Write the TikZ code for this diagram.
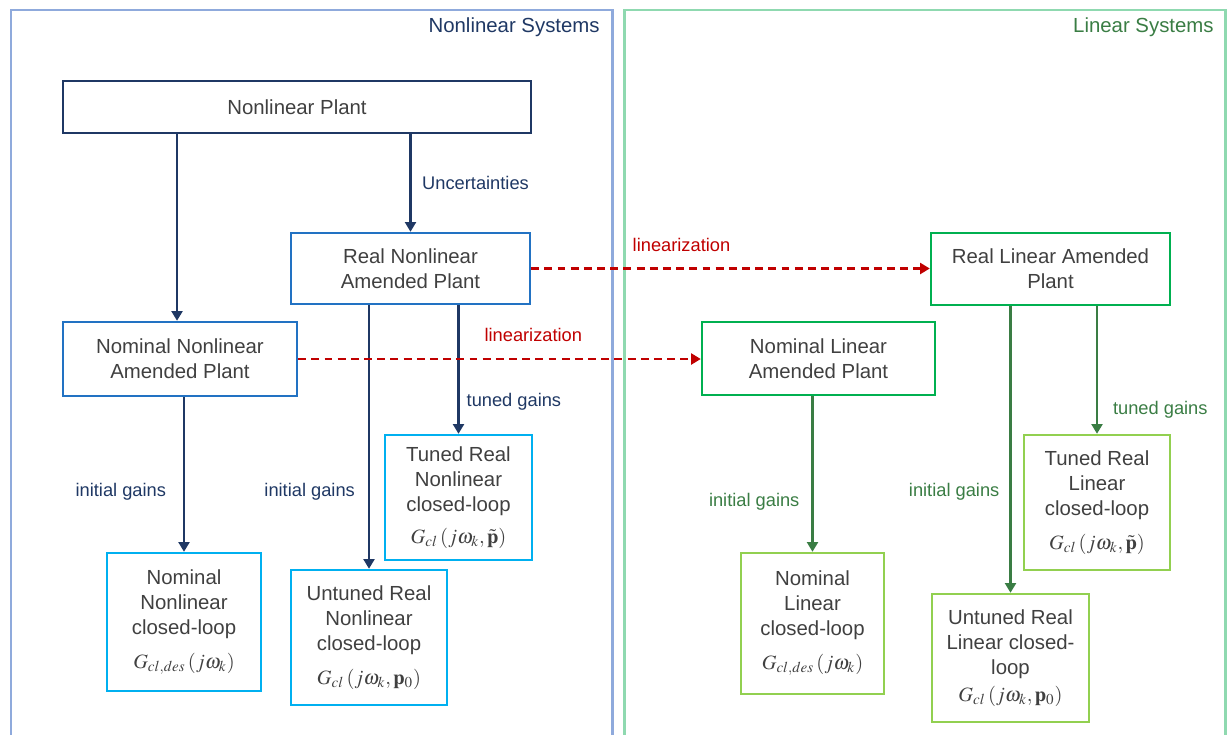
\documentclass[tikz,border=0pt]{standalone}
\usepackage{amsmath}
\usepackage{mathptmx}
\usepackage{fontspec}
\setmainfont{Liberation Sans}
\usepackage{tikz}
\usetikzlibrary{arrows.meta, positioning, calc}

\definecolor{navy}{HTML}{1F3864}
\definecolor{boxblu}{HTML}{2272C3}
\definecolor{celeste}{HTML}{00B0F0}
\definecolor{verde}{HTML}{00B050}
\definecolor{verdechiaro}{HTML}{92D050}
\definecolor{verdescuro}{HTML}{3A7D44}
\definecolor{rosso}{HTML}{C00000}
\definecolor{cornicenl}{HTML}{8FAADC}
\definecolor{cornicel}{HTML}{8FD9B0}
\definecolor{testo}{HTML}{404040}

\tikzset{
  blocco/.style={draw, line width=1.4pt, text=testo, align=center, inner sep=2pt,
    font=\fontsize{11.6}{14.2}\selectfont},
  etichetta/.style={inner sep=0pt, font=\fontsize{10.4}{12}\selectfont},
  titolo/.style={anchor=east, inner sep=0pt, font=\fontsize{11.6}{14}\selectfont},
  freccia/.style={-{Triangle[length=5.5pt,width=6.2pt]}, line width=1.3pt},
  lin/.style={freccia, rosso, line width=1.4pt, dash pattern=on 4.5pt off 3pt},
}

\begin{document}
\begin{tikzpicture}[x=0.02cm, y=-0.02cm]
        \useasboundingbox (0,0) rectangle (1227,734);

        % cornici
        \draw[cornicenl, line width=1.7pt] (11,740) -- (11,10) -- (612,10) -- (612,740);
        \draw[cornicel, line width=1.7pt] (624,740) -- (624,10) -- (1225,10) -- (1225,740);
        \node[titolo, navy] (titnl) at (600,27) {Nonlinear Systems};
        \node[titolo, verdescuro] (titl) at (1214,27) {Linear Systems};

        % sistemi non lineari
        \node[blocco, draw=navy, minimum width=9.36cm, minimum height=1.04cm] (plant) at (297,107) {Nonlinear Plant};
        \node[blocco, draw=boxblu, minimum width=4.78cm, minimum height=1.42cm] (realnl) at (410.5,268.5) {Real Nonlinear\\Amended Plant};
        \node[blocco, draw=boxblu, minimum width=4.68cm, minimum height=1.48cm] (nomnl) at (180,359) {Nominal Nonlinear\\Amended Plant};
        \node[blocco, draw=celeste, minimum width=2.94cm, minimum height=2.5cm] (tunednl) at (458.5,497.5) {Tuned Real\\Nonlinear\\closed-loop\\[4pt] $G_{cl}\left(j\omega_k,\tilde{\mathbf{p}}\right)$};
        \node[blocco, draw=celeste, minimum width=3.08cm, minimum height=2.76cm] (nomnlcl) at (184,622) {Nominal\\Nonlinear\\closed-loop\\[5pt] $G_{cl,des}\left(j\omega_k\right)$};
        \node[blocco, draw=celeste, minimum width=3.12cm, minimum height=2.7cm] (untunednl) at (369,637.5) {Untuned Real\\Nonlinear\\closed-loop\\[5pt] $G_{cl}\left(j\omega_k,\mathbf{p}_0\right)$};

        % sistemi lineari
        \node[blocco, draw=verde, minimum width=4.78cm, minimum height=1.44cm] (reall) at (1050.5,269) {Real Linear Amended\\Plant};
        \node[blocco, draw=verde, minimum width=4.66cm, minimum height=1.46cm] (noml) at (818.5,358.5) {Nominal Linear\\Amended Plant};
        \node[blocco, draw=verdechiaro, minimum width=2.92cm, minimum height=2.7cm] (tunedl) at (1097,502.5) {Tuned Real\\Linear\\closed-loop\\[5pt] $G_{cl}\left(j\omega_k,\tilde{\mathbf{p}}\right)$};
        \node[blocco, draw=verdechiaro, minimum width=2.86cm, minimum height=2.82cm] (nomlcl) at (812.5,623.5) {Nominal\\Linear\\closed-loop\\[5pt] $G_{cl,des}\left(j\omega_k\right)$};
        \node[blocco, draw=verdechiaro, minimum width=3.14cm, minimum height=2.56cm] (untunedl) at (1010.5,658) {Untuned Real\\Linear closed-\\loop\\[1pt] $G_{cl}\left(j\omega_k,\mathbf{p}_0\right)$};

        % frecce non lineari
        \draw[freccia, navy] ([xshift=-1.7pt]plant.south -| nomnl.north) -- ([xshift=-1.7pt]nomnl.north);
        \draw[freccia, navy] (plant.south -| realnl.north) -- node[etichetta, right=6pt] {Uncertainties} (realnl.north);
        \draw[freccia, navy] (realnl.south -| untunednl.north) -- node[etichetta, pos=0.707, left=7.4pt] {initial gains} (untunednl.north);
        \draw[freccia, navy] (realnl.south -| tunednl.north) -- node[etichetta, pos=0.75, right=4pt] {tuned gains} (tunednl.north);
        \draw[freccia, navy] (nomnl.south -| nomnlcl.north) -- node[etichetta, pos=0.61, left=9.6pt] {initial gains} (nomnlcl.north);

        % linearizzazione
        \draw[lin] (realnl.east) -- node[etichetta, pos=0.377, above=9pt] {linearization} (realnl.east -| reall.west);
        \draw[lin] (nomnl.east) -- node[etichetta, pos=0.584, above=9pt] {linearization} (nomnl.east -| noml.west);

        % frecce lineari
        \draw[freccia, verdescuro] (noml.south -| nomlcl.north) -- node[etichetta, pos=0.68, left=6.8pt] {initial gains} (nomlcl.north);
        \draw[freccia, verdescuro] (reall.south -| untunedl.north) -- node[etichetta, pos=0.647, left=5.7pt] {initial gains} (untunedl.north);
        \draw[freccia, verdescuro] (reall.south -| tunedl.north) -- node[etichetta, pos=0.815, right=8.5pt] {tuned gains} (tunedl.north);
    \end{tikzpicture}
\end{document}
